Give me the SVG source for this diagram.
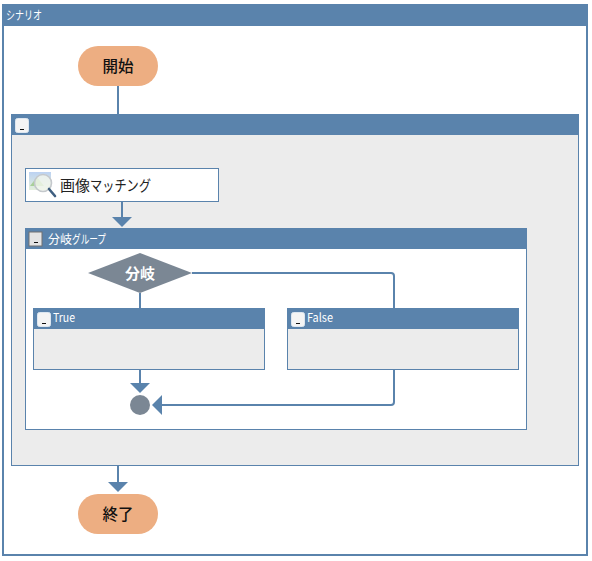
<svg xmlns="http://www.w3.org/2000/svg" width="592" height="561" viewBox="0 0 592 561">
<defs>
<linearGradient id="land" x1="0" y1="0" x2="0" y2="1"><stop offset="0" stop-color="#bcd2f2"/><stop offset="1" stop-color="#e4f0dc"/></linearGradient>
</defs>
<style>
text{font-family:"Noto Sans CJK JP","Noto Sans","Liberation Sans",sans-serif}
.hd{fill:#5a83ac}
.box{stroke:#5a83ac;stroke-width:1}
.gray{fill:#ececec}
.white{fill:#fff}
.ht{fill:#fff;font-size:12px}
.btn{fill:#f4f4f4;stroke:#dce6f0;stroke-width:1}
.pill{fill:#edae82}
.pt{fill:#111;font-size:15.5px;font-weight:500;text-anchor:middle}
.ln{fill:none;stroke:#5a83ac;stroke-width:2}
.ah{fill:#5a83ac}
</style>
<g id="scenario">
<rect x="3" y="5" width="584" height="550" fill="#fff" stroke="#5a83ac" stroke-width="2"/>
<rect class="hd" x="2" y="4" width="585" height="22"/>
<text class="ht" x="6" y="20" textLength="36" lengthAdjust="spacingAndGlyphs">シナリオ</text>
</g>
<g id="group-main">
<rect class="gray box" x="11.5" y="114.5" width="567" height="351"/>
<rect class="hd" x="11" y="114" width="568" height="21"/>
<rect class="btn" x="15.5" y="118.5" width="13" height="14" rx="2"/>
<rect x="20" y="129" width="4" height="1" fill="#111"/>
</g>
<g id="group-branch">
<rect class="white box" x="25.5" y="228.5" width="501" height="201"/>
<rect class="hd" x="25" y="228" width="502" height="21"/>
<rect x="29" y="232" width="13" height="14" fill="#e4e4e4" stroke="#707070" stroke-width="1"/>
<rect x="34" y="242" width="4" height="1" fill="#111"/>
<text class="ht" x="48" y="244">分岐</text>
<text class="ht" x="72" y="244" textLength="34" lengthAdjust="spacingAndGlyphs">グループ</text>
</g>
<g id="connectors">
<path class="ln" d="M118 86V114"/>
<path class="ln" d="M122 202V218"/>
<path class="ah" d="M112 217H132L122 227Z"/>
<path class="ln" d="M140 293V308"/>
<path class="ln" d="M192 273H391Q394 273 394 276V402Q394 405 391 405H161"/>
<path class="ln" d="M140 370V384"/>
<path class="ah" d="M130 383H150L140 393Z"/>
<path class="ah" d="M162 395V415L152 405Z"/>
<path class="ln" d="M118 466V483"/>
<path class="ah" d="M108 482H128L118 492Z"/>
</g>
<g id="start">
<rect class="pill" x="78" y="46" width="80" height="40" rx="20"/>
<text class="pt" x="118" y="72">開始</text>
</g>
<g id="image-matching">
<rect class="white box" x="25.5" y="168.5" width="193" height="33"/>
<rect x="29" y="172" width="22" height="18" fill="url(#land)"/>
<path d="M30 186L37 177L44 186Z" fill="#a8cf98"/>
<circle cx="43" cy="183" r="8.5" fill="#f2f6ee" fill-opacity=".8" stroke="#c4c8cc" stroke-width="1.6"/>
<path d="M49 189L55 196" stroke="#3f5f80" stroke-width="2.6" stroke-linecap="round"/>
<text x="60" y="191" fill="#222" font-size="15">画像</text>
<text x="90" y="191" fill="#222" font-size="15" textLength="61" lengthAdjust="spacingAndGlyphs">マッチング</text>
</g>
<g id="branch">
<path d="M88 273L140 253L192 273L140 293Z" fill="#7b8794"/>
<text x="140" y="279" fill="#fff" font-size="15" font-weight="700" text-anchor="middle">分岐</text>
</g>
<g id="true">
<rect class="gray box" x="33.5" y="308.5" width="231" height="61"/>
<rect class="hd" x="33" y="308" width="232" height="21"/>
<rect class="btn" x="37.5" y="312.5" width="13" height="14" rx="2"/>
<rect x="42" y="323" width="4" height="1" fill="#111"/>
<text class="ht" x="53" y="322" textLength="22" lengthAdjust="spacingAndGlyphs">True</text>
</g>
<g id="false">
<rect class="gray box" x="287.5" y="308.5" width="231" height="61"/>
<rect class="hd" x="287" y="308" width="232" height="21"/>
<rect class="btn" x="291.5" y="312.5" width="13" height="14" rx="2"/>
<rect x="296" y="323" width="4" height="1" fill="#111"/>
<text class="ht" x="307" y="322" textLength="26" lengthAdjust="spacingAndGlyphs">False</text>
</g>
<g id="merge"><circle cx="140" cy="405" r="10" fill="#7b8794"/></g>
<g id="end">
<rect class="pill" x="78" y="494" width="80" height="40" rx="20"/>
<text class="pt" x="118" y="520">終了</text>
</g>
</svg>
